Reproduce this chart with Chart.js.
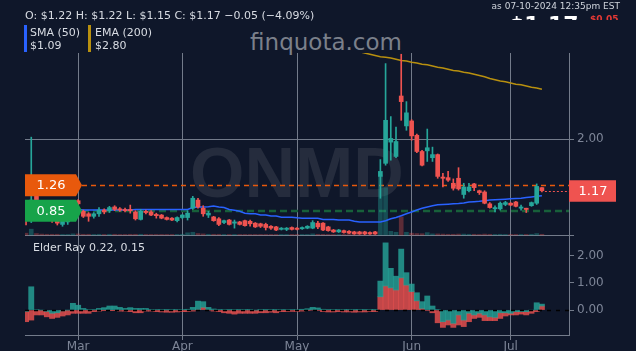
<!DOCTYPE html>
<html>
<head>
<meta charset="utf-8">
<title>ONMD</title>
<script src="https://cdn.jsdelivr.net/npm/chart.js@4.4.1/dist/chart.umd.min.js"></script>
<style>
html, body { margin: 0; padding: 0; background: #0f172a; }
#wrap { position: relative; width: 636px; height: 351px; overflow: hidden; font-family: "DejaVu Sans", sans-serif; }
#chart { position: absolute; left: 0; top: 0; }
.txt { position: absolute; white-space: nowrap; }
#mark { left: 297px; top: 138px; transform: translateX(-50%); font: bold 70px/70px "Liberation Sans", sans-serif; color: #252c3d; }
#site { left: 326px; top: 29px; transform: translateX(-50%); font-size: 23px; line-height: 27px; color: #7b808b; }
#ohlc { left: 25px; top: 9px; font-size: 11px; line-height: 13px; color: #d8dce3; }
.bar { position: absolute; top: 25px; height: 27px; width: 3px; }
.legtxt { top: 25.5px; font-size: 11px; line-height: 13.5px; color: #d8dce3; }
#asof { right: 16px; top: 1px; font-size: 9px; line-height: 11px; color: #cfd4dc; }
#clip { position: absolute; left: 0; top: 0; width: 636px; height: 20px; overflow: hidden; }
#last { left: 509px; top: 14px; font: bold 22px/22px "DejaVu Sans", sans-serif; color: #fff; }
#chg { left: 590px; top: 14px; font: bold 9px/11px "DejaVu Sans", sans-serif; color: #e53935; }
#elder { left: 33px; top: 240.5px; font-size: 11px; line-height: 13px; color: #d8dce3; }
</style>
</head>
<body>
<div id="wrap">
  <div class="txt" id="mark">ONMD</div>
  <div class="txt" id="site">finquota.com</div>
  <canvas id="chart" width="636" height="351"></canvas>
  <div class="txt" id="ohlc">O: $1.22 H: $1.22 L: $1.15 C: $1.17 −0.05 (−4.09%)</div>
  <div class="bar" style="left:24px;background:#2962ff"></div>
  <div class="txt legtxt" style="left:30px">SMA (50)<br>$1.09</div>
  <div class="bar" style="left:88px;background:#b8900f"></div>
  <div class="txt legtxt" style="left:95px">EMA (200)<br>$2.80</div>
  <div class="txt" id="asof">as 07-10-2024 12:35pm EST</div>
  <div id="clip">
    <div class="txt" id="last">$1.17</div>
    <div class="txt" id="chg">$0.05</div>
  </div>
  <div class="txt" id="elder">Elder Ray 0.22, 0.15</div>
</div>
<script>
// trading sessions, Feb 15 - Jul 10 2024
const sessions = [
    '02-15', '02-16', '02-20', '02-21', '02-22', '02-23', '02-26', '02-27', '02-28', '02-29',
    '03-01', '03-04', '03-05', '03-06', '03-07', '03-08', '03-11', '03-12', '03-13', '03-14',
    '03-15', '03-18', '03-19', '03-20', '03-21', '03-22', '03-25', '03-26', '03-27', '03-28',
    '04-01', '04-02', '04-03', '04-04', '04-05', '04-08', '04-09', '04-10', '04-11', '04-12',
    '04-15', '04-16', '04-17', '04-18', '04-19', '04-22', '04-23', '04-24', '04-25', '04-26',
    '04-29', '04-30',
    '05-01', '05-02', '05-03', '05-06', '05-07', '05-08', '05-09', '05-10', '05-13', '05-14',
    '05-15', '05-16', '05-17', '05-20', '05-21', '05-22', '05-23', '05-24', '05-28', '05-29',
    '05-30', '05-31',
    '06-03', '06-04', '06-05', '06-06', '06-07', '06-10', '06-11', '06-12', '06-13', '06-14',
    '06-17', '06-18', '06-20', '06-21', '06-24', '06-25', '06-26', '06-27', '06-28',
    '07-01', '07-02', '07-03', '07-05', '07-08', '07-09', '07-10'
];
const tickMonths = ['03', '04', '05', '06', '07'];
const tickLabels = ['Mar', 'Apr', 'May', 'Jun', 'Jul'];

const open = [
    0.87, 0.72, 1.08, 0.96, 0.86, 0.79, 0.71, 0.63, 0.67, 0.72,
    1.01, 0.84, 0.80, 0.76, 0.80, 0.86, 0.85, 0.91, 0.88, 0.87,
    0.87, 0.83, 0.71, 0.84, 0.83, 0.79, 0.78, 0.74, 0.73, 0.69,
    0.74, 0.74, 0.89, 1.02, 0.89, 0.78, 0.75, 0.72, 0.66, 0.70,
    0.65, 0.67, 0.69, 0.68, 0.65, 0.64, 0.63, 0.60, 0.59, 0.55,
    0.55, 0.58, 0.57, 0.56, 0.57, 0.57, 0.65, 0.65, 0.59, 0.54,
    0.51, 0.53, 0.52, 0.51, 0.51, 0.51, 0.50, 0.51, 1.40, 1.61,
    1.95, 1.72, 2.69, 2.21, 2.29, 2.06, 1.80, 1.81, 1.70, 1.75,
    1.39, 1.38, 1.29, 1.37, 1.11, 1.17, 1.28, 1.17, 1.15, 0.96,
    0.88, 0.88, 0.95, 0.97, 0.99, 0.89, 0.89, 0.93, 0.97, 1.22
];
const high = [
    0.89, 2.03, 1.15, 0.99, 0.90, 0.81, 0.74, 0.70, 0.74, 0.92,
    1.03, 0.86, 0.82, 0.82, 0.90, 0.88, 0.92, 0.93, 0.90, 0.89,
    0.94, 0.85, 0.87, 0.86, 0.85, 0.81, 0.79, 0.75, 0.74, 0.75,
    0.79, 0.85, 1.08, 1.05, 0.93, 0.84, 0.76, 0.74, 0.70, 0.71,
    0.70, 0.68, 0.70, 0.70, 0.66, 0.65, 0.65, 0.61, 0.60, 0.58,
    0.58, 0.59, 0.58, 0.59, 0.61, 0.69, 0.68, 0.66, 0.60, 0.55,
    0.55, 0.54, 0.53, 0.52, 0.52, 0.52, 0.51, 0.52, 1.67, 3.21,
    2.36, 2.19, 3.36, 2.60, 2.31, 2.08, 1.82, 2.16, 1.87, 1.76,
    1.45, 1.48, 1.36, 1.54, 1.29, 1.29, 1.29, 1.18, 1.17, 0.98,
    0.93, 0.99, 1.00, 0.98, 1.00, 0.94, 0.89, 0.99, 1.28, 1.22
];
const low = [
    0.62, 0.66, 0.92, 0.82, 0.76, 0.66, 0.62, 0.60, 0.63, 0.70,
    0.93, 0.74, 0.68, 0.73, 0.76, 0.80, 0.82, 0.85, 0.84, 0.83,
    0.81, 0.70, 0.70, 0.80, 0.77, 0.73, 0.72, 0.70, 0.69, 0.67,
    0.72, 0.70, 0.87, 0.89, 0.76, 0.74, 0.68, 0.61, 0.64, 0.62,
    0.57, 0.62, 0.60, 0.60, 0.58, 0.58, 0.54, 0.55, 0.53, 0.54,
    0.53, 0.54, 0.54, 0.55, 0.56, 0.56, 0.56, 0.53, 0.52, 0.50,
    0.50, 0.49, 0.48, 0.47, 0.47, 0.46, 0.47, 0.47, 1.05, 1.58,
    1.66, 1.70, 2.30, 2.14, 1.98, 1.78, 1.57, 1.64, 1.64, 1.37,
    1.23, 1.32, 1.18, 1.18, 1.05, 1.15, 1.17, 1.11, 0.96, 0.89,
    0.83, 0.86, 0.93, 0.93, 0.91, 0.86, 0.82, 0.92, 0.95, 1.15
];
const close = [
    0.72, 1.02, 0.96, 0.86, 0.79, 0.69, 0.65, 0.68, 0.72, 0.86,
    0.96, 0.76, 0.76, 0.80, 0.86, 0.83, 0.90, 0.87, 0.86, 0.85,
    0.85, 0.72, 0.84, 0.82, 0.78, 0.77, 0.73, 0.71, 0.70, 0.74,
    0.78, 0.81, 1.05, 0.91, 0.80, 0.81, 0.69, 0.63, 0.69, 0.63,
    0.67, 0.63, 0.61, 0.64, 0.59, 0.60, 0.58, 0.57, 0.54, 0.57,
    0.57, 0.55, 0.55, 0.58, 0.60, 0.66, 0.59, 0.54, 0.53, 0.51,
    0.54, 0.50, 0.49, 0.48, 0.48, 0.48, 0.48, 0.48, 1.48, 2.30,
    2.01, 1.96, 2.60, 2.42, 2.05, 1.80, 1.58, 1.86, 1.75, 1.40,
    1.37, 1.34, 1.21, 1.20, 1.23, 1.23, 1.22, 1.14, 0.97, 0.90,
    0.90, 0.97, 0.98, 0.94, 0.92, 0.91, 0.87, 0.98, 1.24, 1.17
];
// volume, relative units
const volume = [
    1.0, 3.2, 0.8, 0.5, 0.4, 0.4, 0.4, 0.3, 0.3, 0.6,
    0.6, 0.4, 0.4, 0.3, 0.4, 0.3, 0.4, 0.4, 0.3, 0.3,
    0.4, 0.4, 0.4, 0.3, 0.3, 0.3, 0.3, 0.3, 0.3, 0.3,
    0.4, 1.2, 1.5, 0.8, 0.6, 0.4, 0.4, 0.4, 0.3, 0.3,
    0.3, 0.3, 0.3, 0.3, 0.3, 0.3, 0.3, 0.3, 0.3, 0.3,
    0.3, 0.3, 0.3, 0.3, 0.3, 0.6, 0.4, 0.4, 0.3, 0.3,
    0.3, 0.3, 0.3, 0.3, 0.3, 0.3, 0.3, 0.3, 33.0, 26.0,
    2.0, 1.5, 10.0, 1.5, 1.0, 0.8, 0.7, 1.3, 0.6, 0.6,
    0.5, 0.4, 0.4, 0.5, 0.5, 0.4, 0.4, 0.3, 0.5, 0.4,
    0.3, 0.4, 0.3, 0.3, 0.3, 0.3, 0.3, 0.4, 0.8, 0.4
];
const sma50 = [
    0.87, 0.87, 0.87, 0.87, 0.87, 0.87, 0.87, 0.87, 0.87, 0.87,
    0.87, 0.86, 0.86, 0.86, 0.86, 0.86, 0.86, 0.86, 0.86, 0.86,
    0.86, 0.87, 0.87, 0.87, 0.87, 0.87, 0.87, 0.87, 0.87, 0.87,
    0.87, 0.87, 0.90, 0.91, 0.91, 0.915, 0.925, 0.91, 0.90, 0.87,
    0.857, 0.84, 0.81, 0.80, 0.80, 0.78, 0.78, 0.765, 0.765, 0.745,
    0.745, 0.745, 0.735, 0.73, 0.73, 0.73, 0.73, 0.71, 0.71, 0.71,
    0.70, 0.70, 0.70, 0.68, 0.67, 0.67, 0.67, 0.67, 0.67, 0.69,
    0.72, 0.74, 0.77, 0.80, 0.83, 0.86, 0.89, 0.91, 0.93, 0.945,
    0.95, 0.955, 0.96, 0.965, 0.975, 0.99, 0.995, 1.00, 1.01, 1.02,
    1.025, 1.03, 1.035, 1.04, 1.045, 1.05, 1.06, 1.07, 1.08, 1.09
];
// EMA 200 sits above the visible range before late May
const ema200 = [
    null, null, null, null, null, null, null, null, null, null,
    null, null, null, null, null, null, null, null, null, null,
    null, null, null, null, null, null, null, null, null, null,
    null, null, null, null, null, null, null, null, null, null,
    null, null, null, null, null, null, null, null, null, null,
    null, null, null, null, null, null, null, null, null, null,
    3.49, 3.47, 3.45, 3.42, 3.40, 3.38, 3.36, 3.34, 3.32, 3.31,
    3.30, 3.28, 3.26, 3.25, 3.23, 3.22, 3.20, 3.19, 3.17, 3.15,
    3.14, 3.12, 3.10, 3.09, 3.07, 3.06, 3.04, 3.02, 3.00, 2.97,
    2.95, 2.93, 2.92, 2.90, 2.88, 2.87, 2.85, 2.83, 2.82, 2.80
];
const bullPower = [
    -0.05, 0.86, 0.02, 0.00, -0.05, -0.12, -0.10, -0.03, 0.00, 0.25,
    0.18, 0.06, 0.02, 0.02, 0.06, 0.09, 0.15, 0.15, 0.10, 0.06,
    0.09, 0.06, 0.06, 0.06, 0.02, 0.02, 0.01, 0.01, 0.01, 0.02,
    0.02, 0.03, 0.10, 0.33, 0.31, 0.10, 0.04, 0.02, 0.02, 0.01,
    0.02, 0.01, 0.01, 0.01, 0.00, 0.01, 0.01, 0.01, 0.01, 0.02,
    0.02, 0.02, 0.02, 0.03, 0.05, 0.10, 0.08, 0.03, 0.02, 0.01,
    0.02, 0.01, 0.01, 0.01, 0.01, 0.01, 0.01, 0.01, 1.07, 2.48,
    1.54, 1.25, 2.25, 1.38, 0.96, 0.64, 0.31, 0.52, 0.15, 0.02,
    -0.43, -0.37, -0.49, -0.18, -0.37, -0.12, -0.18, -0.12, -0.18, -0.25,
    -0.27, -0.10, -0.10, -0.12, -0.06, -0.06, -0.06, 0.00, 0.27, 0.22
];
const bearPower = [
    -0.43, -0.37, -0.18, -0.18, -0.25, -0.31, -0.27, -0.22, -0.18, -0.12,
    -0.12, -0.12, -0.12, -0.06, -0.04, -0.01, -0.01, -0.01, -0.04, -0.04,
    -0.06, -0.10, -0.10, -0.04, -0.04, -0.06, -0.07, -0.08, -0.08, -0.07,
    -0.06, -0.06, -0.04, 0.02, 0.10, 0.00, -0.04, -0.06, -0.10, -0.12,
    -0.15, -0.12, -0.12, -0.12, -0.12, -0.10, -0.10, -0.08, -0.10, -0.06,
    -0.06, -0.05, -0.05, -0.04, -0.02, 0.00, -0.02, -0.06, -0.07, -0.07,
    -0.06, -0.07, -0.07, -0.08, -0.07, -0.07, -0.06, -0.06, 0.49, 0.89,
    0.82, 0.74, 1.19, 0.92, 0.68, 0.34, 0.06, -0.02, -0.10, -0.47,
    -0.64, -0.55, -0.64, -0.55, -0.61, -0.43, -0.31, -0.27, -0.39, -0.39,
    -0.39, -0.31, -0.22, -0.18, -0.18, -0.15, -0.18, -0.12, -0.06, 0.15
];

const priceTicks = [2];
const elderTicks = [0, 1, 2];
const levelHigh = 1.26;
const levelLow = 0.85;

const UP = '#26a69a';
const DOWN = '#ef5350';
const GRID = '#737b8a';
const LABEL = '#7d8597';

const isUp = close.map((c, i) => c >= open[i]);
const candleColors = isUp.map(u => u ? UP : DOWN);
const volColors = isUp.map(u => u ? 'rgba(38,166,154,0.38)' : 'rgba(239,83,80,0.35)');
const xTicks = tickMonths.map(m => sessions.findIndex(d => d.startsWith(m + '-')));
const lastIdx = close.length - 1;

function tag(ctx, x, yc, text, fill) {
    const w = 51, h = 22;
    ctx.fillStyle = fill;
    ctx.beginPath();
    ctx.moveTo(x, yc - h / 2);
    ctx.lineTo(x + w, yc - h / 2);
    ctx.lineTo(x + w + 6, yc);
    ctx.lineTo(x + w, yc + h / 2);
    ctx.lineTo(x, yc + h / 2);
    ctx.closePath();
    ctx.fill();
    ctx.fillStyle = '#ffffff';
    ctx.font = '13px "DejaVu Sans"';
    ctx.textAlign = 'center';
    ctx.textBaseline = 'middle';
    ctx.fillText(text, x + 26, yc + 0.5);
}

const overlays = {
    id: 'overlays',
    beforeDatasetsDraw(chart) {
        const { ctx, chartArea: area, scales: { y } } = chart;
        ctx.save();
        ctx.lineWidth = 1.3;
        ctx.setLineDash([5, 4]);
        ctx.strokeStyle = '#e8590c';
        let py = Math.round(y.getPixelForValue(levelHigh)) + 0.5;
        ctx.beginPath();
        ctx.moveTo(area.left + 57, py);
        ctx.lineTo(area.right, py);
        ctx.stroke();
        ctx.lineWidth = 2.5;
        ctx.setLineDash([7, 4]);
        ctx.strokeStyle = '#17603a';
        py = Math.round(y.getPixelForValue(levelLow));
        ctx.beginPath();
        ctx.moveTo(area.left + 57, py);
        ctx.lineTo(area.right, py);
        ctx.stroke();
        ctx.restore();
    },
    afterDatasetsDraw(chart) {
        const { ctx, chartArea: area, scales: { y2 } } = chart;
        const py = Math.round(y2.getPixelForValue(0)) + 0.5;
        ctx.save();
        ctx.strokeStyle = '#000000';
        ctx.lineWidth = 1.5;
        ctx.setLineDash([4, 5]);
        ctx.beginPath();
        ctx.moveTo(area.left, py);
        ctx.lineTo(area.right, py);
        ctx.stroke();
        ctx.restore();
    },
    afterDraw(chart) {
        const { ctx, chartArea: area, scales: { x, y } } = chart;
        ctx.save();
        tag(ctx, area.left, y.getPixelForValue(levelHigh), levelHigh.toFixed(2), '#e8590c');
        tag(ctx, area.left, y.getPixelForValue(levelLow), levelLow.toFixed(2), '#17a34a');

        // last price marker
        const py = y.getPixelForValue(close[lastIdx]);
        ctx.strokeStyle = DOWN;
        ctx.lineWidth = 1;
        ctx.setLineDash([2, 2]);
        ctx.beginPath();
        ctx.moveTo(x.getPixelForValue(lastIdx) + 3, Math.round(py) + 0.5);
        ctx.lineTo(area.right, Math.round(py) + 0.5);
        ctx.stroke();
        ctx.setLineDash([]);
        ctx.fillStyle = DOWN;
        ctx.fillRect(area.right, py - 10.5, 47, 21.5);
        ctx.fillStyle = '#ffffff';
        ctx.font = '13px "DejaVu Sans"';
        ctx.textAlign = 'center';
        ctx.textBaseline = 'middle';
        ctx.fillText(close[lastIdx].toFixed(2), area.right + 24, py + 0.5);
        ctx.restore();
    }
};

function splitElder() {
    // bars touching the zero line, the longer one continues past the shorter one
    const teal = bullPower.map((b, i) => {
        const r = bearPower[i];
        return { x: i, y: b >= 0 ? [Math.max(r, 0), b] : [0, b] };
    });
    const red = bearPower.map((r, i) => {
        const b = bullPower[i];
        return { x: i, y: r <= 0 ? [Math.min(b, 0), r] : [0, r] };
    });
    return { teal, red };
}

function renderChart() {
    const elder = splitElder();
    const ctx = document.getElementById('chart').getContext('2d');

    new Chart(ctx, {
        type: 'bar',
        data: {
            datasets: [{
                label: 'Bodies',
                data: open.map((o, i) => ({ x: i, y: [o, close[i]] })),
                backgroundColor: candleColors,
                barThickness: 4,
                grouped: false,
                yAxisID: 'y',
                order: 1
            }, {
                label: 'Wicks',
                data: low.map((l, i) => ({ x: i, y: [l, high[i]] })),
                backgroundColor: candleColors,
                barThickness: 1,
                grouped: false,
                yAxisID: 'y',
                order: 2
            }, {
                type: 'line',
                label: 'SMA (50)',
                data: sma50.map((v, i) => ({ x: i, y: v })),
                borderColor: '#2962ff',
                borderWidth: 1.5,
                pointRadius: 0,
                yAxisID: 'y',
                order: 3
            }, {
                type: 'line',
                label: 'EMA (200)',
                data: ema200.map((v, i) => ({ x: i, y: v })),
                borderColor: '#b8900f',
                borderWidth: 1.5,
                pointRadius: 0,
                yAxisID: 'y',
                order: 4
            }, {
                label: 'Volume',
                data: volume.map((v, i) => ({ x: i, y: v })),
                backgroundColor: volColors,
                barThickness: 4,
                grouped: false,
                yAxisID: 'yv',
                order: 5
            }, {
                label: 'Bull power',
                data: elder.teal,
                backgroundColor: 'rgba(38,166,154,0.8)',
                barPercentage: 1,
                categoryPercentage: 1,
                grouped: false,
                yAxisID: 'y2',
                order: 6
            }, {
                label: 'Bear power',
                data: elder.red,
                backgroundColor: 'rgba(239,83,80,0.8)',
                barPercentage: 1,
                categoryPercentage: 1,
                grouped: false,
                yAxisID: 'y2',
                order: 6
            }]
        },
        options: {
            responsive: false,
            devicePixelRatio: 1,
            animation: false,
            events: [],
            layout: { padding: { left: 25, top: 53, right: 0, bottom: 0 } },
            plugins: {
                legend: { display: false },
                tooltip: { enabled: false }
            },
            scales: {
                x: {
                    type: 'linear',
                    min: -0.2,
                    max: sessions.length + 4.2,
                    offset: false,
                    grid: { color: GRID, offset: false, tickLength: 5 },
                    border: { color: GRID },
                    afterBuildTicks: s => { s.ticks = xTicks.map(v => ({ value: v })); },
                    afterFit: s => { s.height = 16; },
                    ticks: {
                        color: LABEL,
                        font: { family: 'DejaVu Sans', size: 12 },
                        padding: 0,
                        autoSkip: false,
                        maxRotation: 0,
                        callback: (v, i) => tickLabels[i]
                    }
                },
                y: {
                    position: 'right',
                    stack: 'panes',
                    stackWeight: 182,
                    min: 0.46,
                    max: 3.38,
                    grid: { color: GRID, tickLength: 5 },
                    border: { color: GRID },
                    afterBuildTicks: s => { s.ticks = [s.min].concat(priceTicks).map(v => ({ value: v })); },
                    afterFit: s => { s.width = 67; },
                    ticks: {
                        color: LABEL,
                        font: { family: 'DejaVu Sans', size: 12 },
                        padding: 3,
                        callback: v => priceTicks.includes(v) ? v.toFixed(2) : ''
                    }
                },
                y2: {
                    position: 'right',
                    stack: 'panes',
                    stackWeight: 100,
                    min: -0.92,
                    max: 2.77,
                    grid: { color: GRID, drawOnChartArea: false, tickLength: 5 },
                    border: { color: GRID },
                    afterBuildTicks: s => { s.ticks = elderTicks.map(v => ({ value: v })); },
                    afterFit: s => { s.width = 67; },
                    ticks: {
                        color: LABEL,
                        font: { family: 'DejaVu Sans', size: 12 },
                        padding: 3,
                        callback: v => v.toFixed(2)
                    }
                },
                yv: {
                    position: 'left',
                    display: false,
                    min: -54.95,
                    max: 100
                }
            }
        },
        plugins: [overlays]
    });
}

document.addEventListener('DOMContentLoaded', () => {
    renderChart();
});
</script>
</body>
</html>
